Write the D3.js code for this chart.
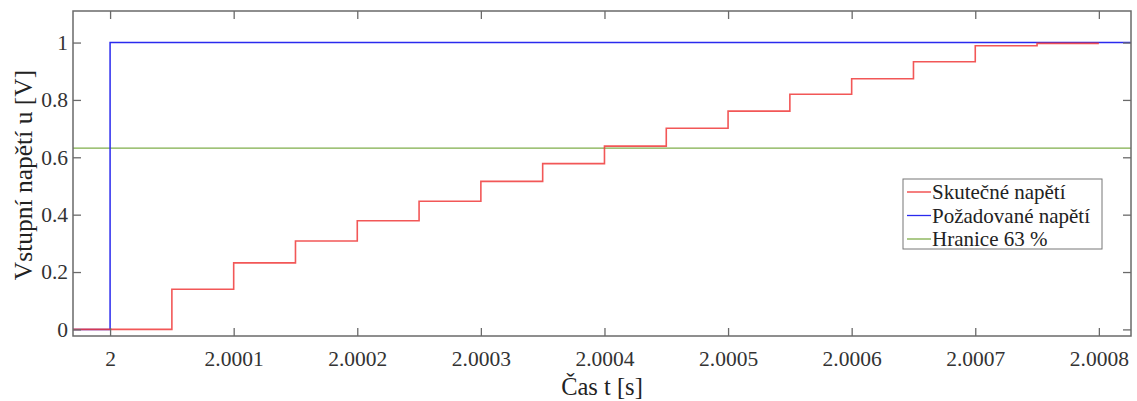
<!DOCTYPE html>
<html>
<head>
<meta charset="utf-8">
<script src="https://cdn.jsdelivr.net/npm/d3@7"></script>
<style>
  body { margin: 0; background: #fff; }
</style>
</head>
<body>
<div id="chart"></div>
<script>
// step times (s) and measured voltage
const stepTimes = [1.99997, 2.00005, 2.0001, 2.00015, 2.0002, 2.00025, 2.0003, 2.00035,
  2.0004, 2.00045, 2.0005, 2.00055, 2.0006, 2.00065, 2.0007, 2.00075, 2.0008];
const actualVoltage = [0, 0.14, 0.232, 0.308, 0.379, 0.447, 0.516, 0.578,
  0.639, 0.701, 0.761, 0.82, 0.874, 0.933, 0.989, 0.997, 0.997];

const requestTimes = [1.99997, 2.0, 2.000826];
const requestVoltage = [0, 1, 1];

const thresholdValue = 0.632;

const xTicks = [2, 2.0001, 2.0002, 2.0003, 2.0004, 2.0005, 2.0006, 2.0007, 2.0008];
const yTicks = [0, 0.2, 0.4, 0.6, 0.8, 1];

const legendLabels = ["Skutečné napětí", "Požadované napětí", "Hranice 63 %"];
const colors = ["#f03a3a", "#2a2aee", "#7fae4a"];

const serif = "'Liberation Serif', serif";

const width = 1137,
  height = 401,
  margin = { top: 11, right: 6, bottom: 65, left: 73 };

const svg = d3
  .select("#chart")
  .append("svg")
  .attr("width", width)
  .attr("height", height);

const x = d3
  .scaleLinear()
  .domain([1.99997, 2.000826])
  .range([margin.left, width - margin.right]);

const y = d3
  .scaleLinear()
  .domain([-0.023, 1.11])
  .range([height - margin.bottom, margin.top]);

const axisColor = "#6a6a6a";

// lines
const line = d3
  .line()
  .x((d) => x(d[0]))
  .y((d) => y(d[1]))
  .curve(d3.curveStepAfter);

svg
  .append("path")
  .datum([[x.domain()[0], thresholdValue], [x.domain()[1], thresholdValue]])
  .attr("fill", "none")
  .attr("stroke", colors[2])
  .attr("stroke-width", 1.3)
  .attr("d", line);

svg
  .append("path")
  .datum(requestTimes.map((t, i) => [t, requestVoltage[i]]))
  .attr("fill", "none")
  .attr("stroke", colors[1])
  .attr("stroke-width", 1.5)
  .attr("d", line);

svg
  .append("path")
  .datum(stepTimes.map((t, i) => [t, actualVoltage[i]]))
  .attr("fill", "none")
  .attr("stroke", colors[0])
  .attr("stroke-width", 1.6)
  .attr("stroke-opacity", 0.85)
  .attr("d", line);

// axes (ticks inside, mirrored)
function styleAxis(g) {
  g.attr("font-family", serif);
  g.select(".domain").remove();
  g.selectAll(".tick line").attr("stroke", axisColor).attr("stroke-width", 1.3);
  g.selectAll(".tick text")
    .attr("fill", "#333")
    .style("font-family", serif)
    .style("font-size", "21.5px");
}

svg
  .append("g")
  .attr("transform", `translate(0,${height - margin.bottom})`)
  .call(d3.axisBottom(x).tickValues(xTicks).tickFormat((d) => d3.format("")(+d.toFixed(4))).tickSizeInner(-8).tickSizeOuter(0).tickPadding(15))
  .call(styleAxis);

svg
  .append("g")
  .attr("transform", `translate(0,${margin.top})`)
  .call(d3.axisTop(x).tickValues(xTicks).tickFormat("").tickSizeInner(-8).tickSizeOuter(0))
  .call(styleAxis);

svg
  .append("g")
  .attr("transform", `translate(${margin.left},0)`)
  .call(d3.axisLeft(y).tickValues(yTicks).tickFormat(d3.format("")).tickSizeInner(-8).tickSizeOuter(0).tickPadding(5))
  .call(styleAxis);

svg
  .append("g")
  .attr("transform", `translate(${width - margin.right},0)`)
  .call(d3.axisRight(y).tickValues(yTicks).tickFormat("").tickSizeInner(-8).tickSizeOuter(0))
  .call(styleAxis);

svg
  .append("rect")
  .attr("x", margin.left)
  .attr("y", margin.top)
  .attr("width", width - margin.left - margin.right)
  .attr("height", height - margin.top - margin.bottom)
  .attr("fill", "none")
  .attr("stroke", axisColor)
  .attr("stroke-width", 1.5);

// axis titles
svg
  .append("text")
  .attr("x", (margin.left + width - margin.right) / 2)
  .attr("y", 395)
  .attr("text-anchor", "middle")
  .attr("fill", "#222")
  .style("font-family", serif)
  .style("font-size", "24.5px")
  .text("Čas t [s]");

svg
  .append("text")
  .attr("transform", `translate(32,175) rotate(-90)`)
  .attr("text-anchor", "middle")
  .attr("fill", "#222")
  .style("font-family", serif)
  .style("font-size", "25.5px")
  .text("Vstupní napětí u [V]");

// legend
const legend = svg.append("g").attr("transform", "translate(903,179)");

legend
  .append("rect")
  .attr("width", 199)
  .attr("height", 70)
  .attr("fill", "#fff")
  .attr("stroke", "#777")
  .attr("stroke-width", 1);

const items = legend
  .selectAll(".item")
  .data(legendLabels)
  .enter()
  .append("g")
  .attr("class", "item")
  .attr("transform", (d, i) => `translate(0,${13 + i * 23.5})`);

items
  .append("line")
  .attr("x1", 4)
  .attr("x2", 28)
  .attr("stroke", (d, i) => colors[i])
  .attr("stroke-width", 1.3);

items
  .append("text")
  .attr("x", 29)
  .attr("dy", "0.35em")
  .attr("fill", "#222")
  .style("font-family", serif)
  .style("font-size", "21px")
  .text((d) => d);
</script>
</body>
</html>
